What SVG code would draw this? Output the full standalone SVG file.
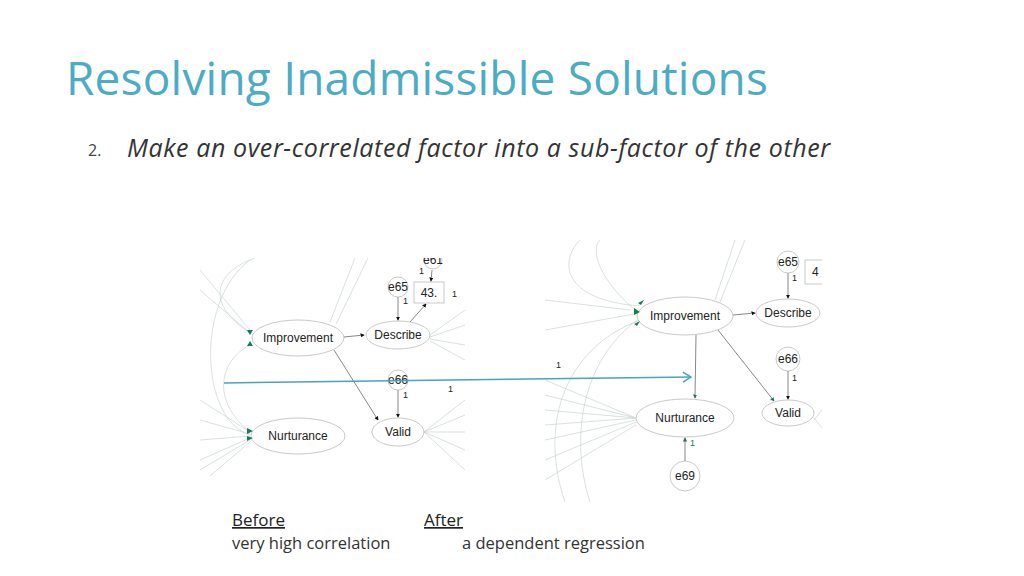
<svg xmlns="http://www.w3.org/2000/svg" width="1024" height="576" viewBox="0 0 1024 576">
<style>
text{font-family:"Liberation Sans",Arial,sans-serif;fill:#222}
.n{fill:#fff;stroke:#bbb;stroke-width:0.8}
.l{font-size:12px}
.s{font-size:9px}
.g{fill:none;stroke:#c8d4d0;stroke-width:0.7}
.a{stroke:#555;stroke-width:0.7;fill:none}
.t{font-family:"Open Sans","Liberation Sans",sans-serif}
</style>
<defs>
<marker id="k" markerWidth="6" markerHeight="6" refX="5" refY="3" orient="auto"><path d="M0,0L6,3L0,6z" fill="#111"/></marker>
<marker id="gm" markerWidth="6" markerHeight="6" refX="5" refY="3" orient="auto"><path d="M0,0L6,3L0,6z" fill="#1a7a50"/></marker>
<marker id="ta" markerWidth="12" markerHeight="12" refX="10" refY="6" orient="auto" markerUnits="userSpaceOnUse"><path d="M2,1L10,6L2,11" fill="none" stroke="#4aa3b8" stroke-width="1.5"/></marker>
<clipPath id="c1"><rect x="200" y="258" width="265" height="218"/></clipPath>
<clipPath id="c2"><rect x="545" y="240" width="277" height="262"/></clipPath>
</defs>
<rect width="1024" height="576" fill="#fff"/>
<text class="t" x="66" y="95" font-size="46" style="fill:#4bacc6" letter-spacing="0.2">Resolving Inadmissible Solutions</text>
<text class="t" x="88" y="156" font-size="16" style="fill:#444">2.</text>
<text class="t" x="127" y="157" font-size="25" font-style="italic" style="fill:#333" letter-spacing="0.6">Make an over-correlated factor into a sub-factor of the other</text>

<g id="left" clip-path="url(#c1)">
<g id="left-bg">
<path class="g" d="M200,270L250,330M200,290L250,333M200,400L250,432M200,420L250,434M200,440L250,436M200,460L250,438M200,470L250,440M210,476L250,442"/>
<path class="g" d="M250,333C200,300 220,270 255,258M250,432C210,400 220,360 250,345M250,435C200,420 195,300 250,260"/>
<path class="g" d="M330,322L355,258M336,324L368,258M430,335L465,310M430,337L465,325M430,339L465,345M430,341L465,360"/>
<path class="g" d="M424,432L465,400M424,432L465,415M424,432L465,432M424,432L465,450M424,432L465,470"/>
</g>
<g id="l-imp"><ellipse class="n" cx="298" cy="338" rx="46" ry="18"/><text class="l" x="298" y="342" text-anchor="middle">Improvement</text></g>
<g id="l-nur"><ellipse class="n" cx="298" cy="436" rx="47" ry="18"/><text class="l" x="298" y="440" text-anchor="middle">Nurturance</text></g>
<g id="l-des"><ellipse class="n" cx="398" cy="335" rx="32" ry="14"/><text class="l" x="398" y="339" text-anchor="middle">Describe</text></g>
<g id="l-val"><ellipse class="n" cx="398" cy="432" rx="26" ry="14"/><text class="l" x="398" y="436" text-anchor="middle">Valid</text></g>
<g id="l-e65"><circle class="n" cx="398" cy="287" r="10"/><text class="l" x="398" y="291" text-anchor="middle">e65</text></g>
<g id="l-e66"><circle class="n" cx="398" cy="380" r="10"/><text class="l" x="398" y="384" text-anchor="middle">e66</text></g>
<g id="l-e61"><circle class="n" cx="433" cy="260" r="9"/><text class="l" x="433" y="264" text-anchor="middle">e61</text></g>
<g id="l-box"><rect class="n" x="414" y="282" width="30" height="21"/><text class="l" x="429" y="297" text-anchor="middle">43.</text></g>
<g id="left-conn">
<path class="a" marker-end="url(#k)" d="M344,337L364,335"/>
<path class="a" marker-end="url(#k)" d="M334,350L378,420"/>
<path class="a" marker-end="url(#k)" d="M398,297L398,320"/>
<path class="a" marker-end="url(#k)" d="M398,390L398,417"/>
<path class="a" marker-end="url(#k)" d="M432,270L431,281"/>
<path class="a" marker-end="url(#k)" d="M410,322L426,304"/>
<path fill="#1a7a50" d="M247,330l6,0l-3,5zM247,346l6,0l-3,-5zM247,428l6,3l-6,3zM247,436l6,2l-6,3z"/>
<text class="s" x="403" y="304">1</text><text class="s" x="403" y="398">1</text><text class="s" x="419" y="274">1</text><text class="s" x="452" y="297">1</text><text class="s" x="448" y="392">1</text>
</g>
</g>

<g id="right" clip-path="url(#c2)">
<g id="right-bg">
<path class="g" d="M545,300L630,310M545,330L640,313M545,380L636,418M545,395L636,418M545,410L636,418M545,425L636,418M545,440L636,420M545,460L636,422M545,480L636,425"/>
<path class="g" d="M640,320C560,350 540,430 565,502M640,318C580,360 570,440 590,502M633,308C600,280 590,250 600,240M640,306C560,300 560,260 580,240"/>
<path class="g" d="M715,300L735,240M720,302L745,240M814,420L822,410M814,418L822,428"/>
</g>
<g id="r-imp"><ellipse class="n" cx="685" cy="316" rx="48" ry="19"/><text class="l" x="685" y="320" text-anchor="middle">Improvement</text></g>
<g id="r-nur"><ellipse class="n" cx="685" cy="418" rx="49" ry="19"/><text class="l" x="685" y="422" text-anchor="middle">Nurturance</text></g>
<g id="r-des"><ellipse class="n" cx="788" cy="313" rx="32" ry="14"/><text class="l" x="788" y="317" text-anchor="middle">Describe</text></g>
<g id="r-val"><ellipse class="n" cx="788" cy="413" rx="26" ry="13"/><text class="l" x="788" y="417" text-anchor="middle">Valid</text></g>
<g id="r-e65"><circle class="n" cx="788" cy="262" r="11"/><text class="l" x="788" y="266" text-anchor="middle">e65</text></g>
<g id="r-e66"><circle class="n" cx="788" cy="359" r="12"/><text class="l" x="788" y="363" text-anchor="middle">e66</text></g>
<g id="r-e69"><circle class="n" cx="685" cy="476" r="15"/><text class="l" x="685" y="480" text-anchor="middle">e69</text></g>
<g id="r-box"><rect class="n" x="805" y="260" width="30" height="24"/><text class="l" x="812" y="276">4</text></g>
<g id="right-conn">
<path class="a" marker-end="url(#k)" d="M733,315L755,313"/>
<path class="a" marker-end="url(#k)" d="M788,273L788,298"/>
<path class="a" marker-end="url(#k)" d="M788,371L788,399"/>
<path class="a" marker-end="url(#gm)" d="M696,335L695,398"/>
<path class="a" marker-end="url(#gm)" d="M718,330L774,401"/>
<path class="a" marker-end="url(#gm)" d="M685,461L685,438"/>
<path fill="#1a7a50" d="M634,308l6,4l-6,3zM638,303l6,-3l-3,5zM634,324l6,-3l-3,5z"/>
<text class="s" x="792" y="281">1</text><text class="s" x="792" y="381">1</text><text class="s" x="556" y="368">1</text>
<text class="s" x="690" y="446" style="fill:#1a7a50">1</text>
</g>
</g>

<g id="connectors">
<path d="M224,383L691,377" stroke="#4aa3b8" stroke-width="1.5" fill="none" marker-end="url(#ta)"/>
</g>

<g id="captions">
<text class="t" x="232" y="526" font-size="17" text-decoration="underline">Before</text>
<text class="t" x="232" y="549" font-size="16.5" style="fill:#333">very high correlation</text>
<text class="t" x="424" y="526" font-size="17" text-decoration="underline">After</text>
<text class="t" x="462" y="549" font-size="16.5" style="fill:#333">a dependent regression</text>
</g>
</svg>
